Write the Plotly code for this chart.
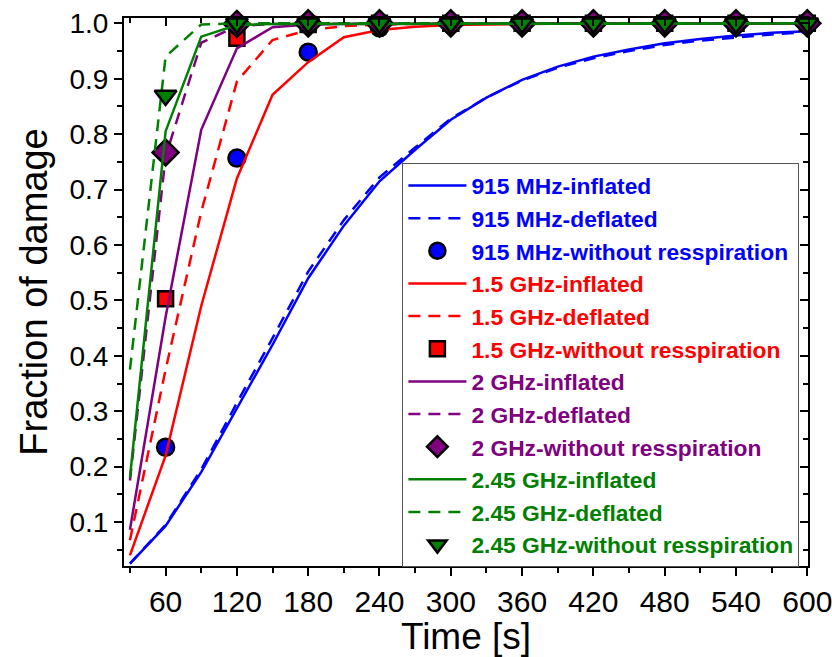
import plotly.graph_objects as go

# ---------------- data ----------------
t = [30, 60, 90, 120, 150, 180, 210, 240, 270, 300, 330, 360, 390, 420, 450, 480, 510, 540, 570, 600]
t_pts = [60, 120, 180, 240, 300, 360, 420, 480, 540, 600]

mhz915_inflated = [0.025, 0.093, 0.19, 0.305, 0.42, 0.54, 0.635, 0.715, 0.772, 0.826, 0.866, 0.898, 0.922, 0.94, 0.953, 0.964, 0.972, 0.978, 0.983, 0.986]
mhz915_deflated = [0.025, 0.095, 0.195, 0.315, 0.432, 0.552, 0.645, 0.722, 0.776, 0.828, 0.866, 0.897, 0.92, 0.937, 0.95, 0.961, 0.969, 0.975, 0.98, 0.984]
mhz915_noresp = [0.235, 0.757, 0.948, 0.992, 0.998, 0.999, 1.0, 1.0, 1.0, 1.0]

ghz15_inflated = [0.04, 0.22, 0.49, 0.72, 0.871, 0.93, 0.975, 0.988, 0.994, 0.997, 0.998, 0.999, 0.999, 1.0, 1.0, 1.0, 1.0, 1.0, 1.0, 1.0]
ghz15_deflated = [0.067, 0.375, 0.66, 0.895, 0.97, 0.988, 0.995, 0.998, 0.999, 0.999, 1.0, 1.0, 1.0, 1.0, 1.0, 1.0, 1.0, 1.0, 1.0, 1.0]
ghz15_noresp = [0.503, 0.973, 0.998, 1.0, 1.0, 1.0, 1.0, 1.0, 1.0, 1.0]

ghz2_inflated = [0.086, 0.47, 0.808, 0.955, 0.993, 0.998, 0.999, 0.999, 1.0, 1.0, 1.0, 1.0, 1.0, 1.0, 1.0, 1.0, 1.0, 1.0, 1.0, 1.0]
ghz2_deflated = [0.175, 0.76, 0.965, 0.995, 0.999, 0.999, 1.0, 1.0, 1.0, 1.0, 1.0, 1.0, 1.0, 1.0, 1.0, 1.0, 1.0, 1.0, 1.0, 1.0]
ghz2_noresp = [0.767, 0.999, 1.0, 1.0, 1.0, 1.0, 1.0, 1.0, 1.0, 1.0]

ghz245_inflated = [0.18, 0.805, 0.976, 0.997, 0.999, 0.999, 1.0, 1.0, 1.0, 1.0, 1.0, 1.0, 1.0, 1.0, 1.0, 1.0, 1.0, 1.0, 1.0, 1.0]
ghz245_deflated = [0.375, 0.94, 0.998, 1.0, 1.0, 1.0, 1.0, 1.0, 1.0, 1.0, 1.0, 1.0, 1.0, 1.0, 1.0, 1.0, 1.0, 1.0, 1.0, 1.0]
ghz245_noresp = [0.87, 1.0, 1.0, 1.0, 1.0, 1.0, 1.0, 1.0, 1.0, 1.0]

groups = [
    ("915 MHz", "#0000FF", mhz915_inflated, mhz915_deflated, mhz915_noresp, "circle", 17),
    ("1.5 GHz", "#FF0000", ghz15_inflated, ghz15_deflated, ghz15_noresp, "square", 15),
    ("2 GHz", "#800080", ghz2_inflated, ghz2_deflated, ghz2_noresp, "diamond", 20),
    ("2.45 GHz", "#008000", ghz245_inflated, ghz245_deflated, ghz245_noresp, "triangle-down", 19),
]

fig = go.Figure()


def lbl(text, color):
    return f'<span style="color:{color}"><b>{text}</b></span>'


k = 0
for name, col, inf, dfl, nr, sym, msz in groups:
    fig.add_trace(go.Scatter(x=t, y=inf, mode="lines", name=lbl(f"{name}-inflated", col),
                             line=dict(color=col, width=2.5), legendgroup=f"g{k}"))
    k += 1
    fig.add_trace(go.Scatter(x=t, y=dfl, mode="lines", name=lbl(f"{name}-deflated", col),
                             line=dict(color=col, width=2.5, dash="12px,8px"), legendgroup=f"g{k}"))
    k += 1
    fig.add_trace(go.Scatter(x=t_pts, y=nr, mode="markers", name=lbl(f"{name}-without resspiration", col),
                             marker=dict(color=col, symbol=sym, size=msz, line=dict(color="black", width=2.5)),
                             legendgroup=f"g{k}", cliponaxis=False))
    k += 1

# invisible trace for mirrored (inward-tick) top/right axes
fig.add_trace(go.Scatter(x=[300], y=[0.5], xaxis="x2", yaxis="y2", mode="markers",
                         marker=dict(opacity=0), showlegend=False, hoverinfo="skip"))

XR = [25, 600.6]
YR = [0.0207, 1.0097]
tickfont_x = dict(family="Liberation Sans Narrow, Arial Narrow, Liberation Sans, Arial", size=30, color="black")
tickfont_y = dict(family="Liberation Sans, Arial", size=28, color="black")

fig.update_layout(
    width=832, height=657,
    margin=dict(l=124, r=24, t=18, b=91),
    paper_bgcolor="white", plot_bgcolor="white",
    showlegend=True,
    legend=dict(x=0.407, y=0.735, xanchor="left", yanchor="top",
                bgcolor="white", bordercolor="#555555", borderwidth=1,
                font=dict(family="Liberation Sans, Arial", size=22.8),
                itemwidth=58, traceorder="grouped", tracegroupgap=0),
    xaxis=dict(range=XR, tick0=0, dtick=60, ticks="outside", ticklen=8, tickwidth=1.5,
               tickcolor="black", showline=True, linecolor="black", linewidth=2,
               showgrid=False, zeroline=False, tickfont=tickfont_x, ticklabeloverflow="allow",
               automargin=False,
               minor=dict(tick0=0, dtick=30, ticks="outside", ticklen=5, tickwidth=1.5, tickcolor="black"),
               title=dict(text="Time [s]", font=dict(family="Liberation Sans, Arial", size=37, color="black"),
                          standoff=4)),
    yaxis=dict(range=YR, tick0=0, dtick=0.1, tickformat=".1f", ticks="outside", ticklen=8, tickwidth=1.5,
               tickcolor="black", showline=True, linecolor="black", linewidth=2,
               showgrid=False, zeroline=False, tickfont=tickfont_y, automargin=False,
               minor=dict(tick0=0, dtick=0.05, ticks="outside", ticklen=5, tickwidth=1.5, tickcolor="black"),
               title=dict(text="Fraction of damage", font=dict(family="Liberation Sans, Arial", size=38, color="black"),
                          standoff=10)),
    xaxis2=dict(range=XR, overlaying="x", side="top", anchor="y", tick0=0, dtick=60, ticks="inside",
                ticklen=8, tickwidth=1.5, tickcolor="black", showline=True, linecolor="black", linewidth=2,
                showgrid=False, zeroline=False, showticklabels=False, automargin=False,
                minor=dict(tick0=0, dtick=30, ticks="inside", ticklen=5, tickwidth=1.5, tickcolor="black")),
    yaxis2=dict(range=YR, overlaying="y", side="right", anchor="x", tick0=0, dtick=0.1, ticks="inside",
                ticklen=8, tickwidth=1.5, tickcolor="black", showline=True, linecolor="black", linewidth=2,
                showgrid=False, zeroline=False, showticklabels=False, automargin=False,
                minor=dict(tick0=0, dtick=0.05, ticks="inside", ticklen=5, tickwidth=1.5, tickcolor="black")),
)

fig.write_html("out.html")
